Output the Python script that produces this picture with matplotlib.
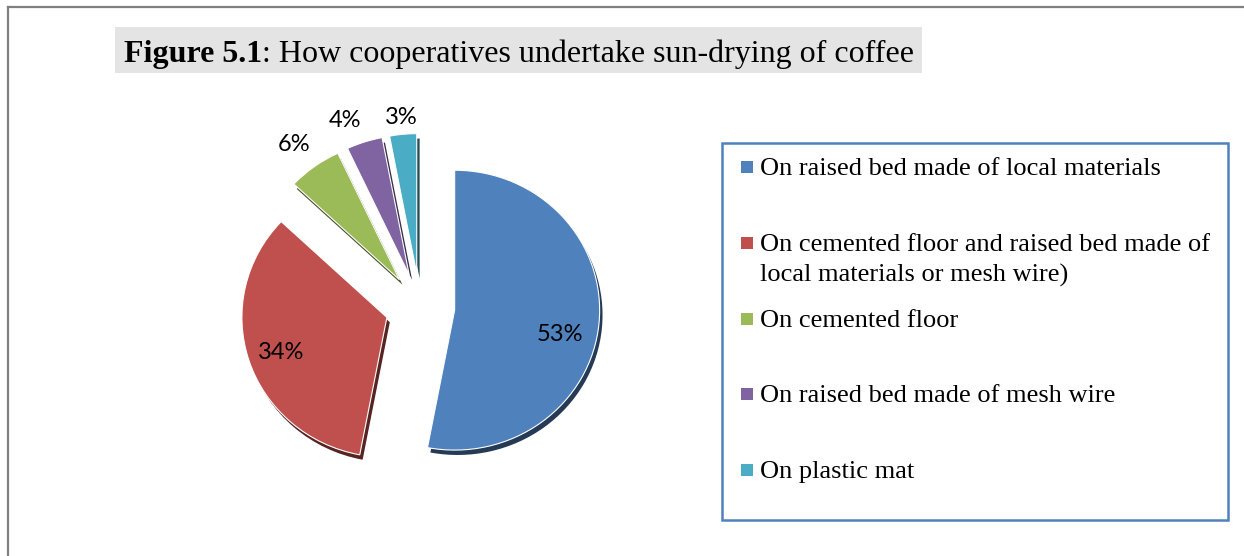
import numpy as np
import matplotlib
matplotlib.use('Agg')
import matplotlib.pyplot as plt
from matplotlib.patches import Rectangle, Wedge
from matplotlib.lines import Line2D
import matplotlib.colors as mcolors

# ---- data ----
categories = ["On raised bed made of local materials",
              "On cemented floor and raised bed made of\nlocal materials or mesh wire)",
              "On cemented floor",
              "On raised bed made of mesh wire",
              "On plastic mat"]
shares = [53, 34, 6, 4, 3]
title_bold = "Figure 5.1"
title_rest = ": How cooperatives undertake sun-drying of coffee"

# ---- style ----
colors = ['#4F81BD', '#C0504D', '#9BBB59', '#8064A2', '#4BACC6']
label_dist = [0.75, 0.77, 1.21, 1.19, 1.12]
label_turn = [-8, 1, 1, 4, 0]   # degrees

W, H, DPI = 1244, 556, 100
fig = plt.figure(figsize=(W / DPI, H / DPI), dpi=DPI)
fig.patch.set_facecolor('white')
renderer = fig.canvas.get_renderer()


def fx(px):
    return px / W


def fy(py):
    return 1 - py / H


# outer frame (top and left)
fig.add_artist(Line2D([fx(8), fx(8)], [fy(7), 0], color='#808080', lw=1.6))
fig.add_artist(Line2D([fx(8), 1], [fy(7), fy(7)], color='#808080', lw=1.6))

# title box
fig.add_artist(Rectangle((fx(115), fy(73)), fx(922) - fx(115), fy(27) - fy(73),
                         facecolor='#E4E4E4', edgecolor='none', transform=fig.transFigure))
t1 = fig.text(fx(124), fy(62), title_bold, fontfamily='Liberation Serif', fontweight='bold',
              fontsize=23, va='baseline', ha='left')
bb = t1.get_window_extent(renderer)
fig.text(bb.x1 / W, fy(62), title_rest, fontfamily='Liberation Serif', fontsize=23,
         va='baseline', ha='left')

# pie (slightly foreshortened vertically, like the 3-D original)
R = 145.0
K = 0.965
CX, CY = 420, 307
ax = fig.add_axes([fx(CX - 220), fy(CY + 220), 440 / W, 440 / H])
wedges, texts, autotexts = ax.pie(
    shares, colors=colors, startangle=90, counterclock=False,
    explode=[0.24] * len(shares), autopct='%1.0f%%', pctdistance=0.75,
    wedgeprops=dict(edgecolor='white', linewidth=0.8),
    textprops=dict(fontfamily='Lato', fontsize=17, color='black'))
ax.set_xlim(-220 / R, 220 / R)
ax.set_ylim(-220 / (R * K), 220 / (R * K))
ax.set_aspect('auto')
ax.axis('off')

for w, t, d, turn in zip(wedges, autotexts, label_dist, label_turn):
    th = np.deg2rad((w.theta1 + w.theta2) / 2 + turn)
    cx, cy = w.center
    t.set_position((cx + d * w.r * np.cos(th), cy + d * w.r * np.sin(th)))
    # darker sliver to suggest the 3-D edge
    dark = tuple(np.array(mcolors.to_rgb(w.get_facecolor())) * 0.45)
    sh = Wedge((cx + 0.02, cy - 0.035), w.r, w.theta1, w.theta2, facecolor=dark,
               edgecolor='none', zorder=w.get_zorder() - 0.5)
    ax.add_patch(sh)

# legend (Excel-style: equal slots, marker on the first line)
fig.add_artist(Rectangle((fx(722), fy(520)), fx(1228) - fx(722), fy(143) - fy(520),
                         facecolor='none', edgecolor='#4F81BD', lw=1.8,
                         transform=fig.transFigure))
first_base, slot = 175, 75.8
leg_font = dict(fontfamily='Liberation Serif', fontsize=19, ha='left', va='baseline',
                linespacing=1.42)
for i, (lab, col) in enumerate(zip(categories, colors)):
    base = first_base + i * slot
    fig.add_artist(Rectangle((fx(741), fy(base - 2)), 12 / W, 12 / H, facecolor=col,
                             edgecolor='none', transform=fig.transFigure))
    t = fig.text(fx(760), fy(base), lab, **leg_font)
    # matplotlib puts the LAST line on the baseline; shift so the FIRST line sits there
    first = fig.text(fx(760), fy(base), lab.split('\n')[0], **leg_font)
    extra = t.get_window_extent(renderer).height - first.get_window_extent(renderer).height
    first.remove()
    t.set_y(fy(base + extra))

fig.savefig('out.png', dpi=DPI)
